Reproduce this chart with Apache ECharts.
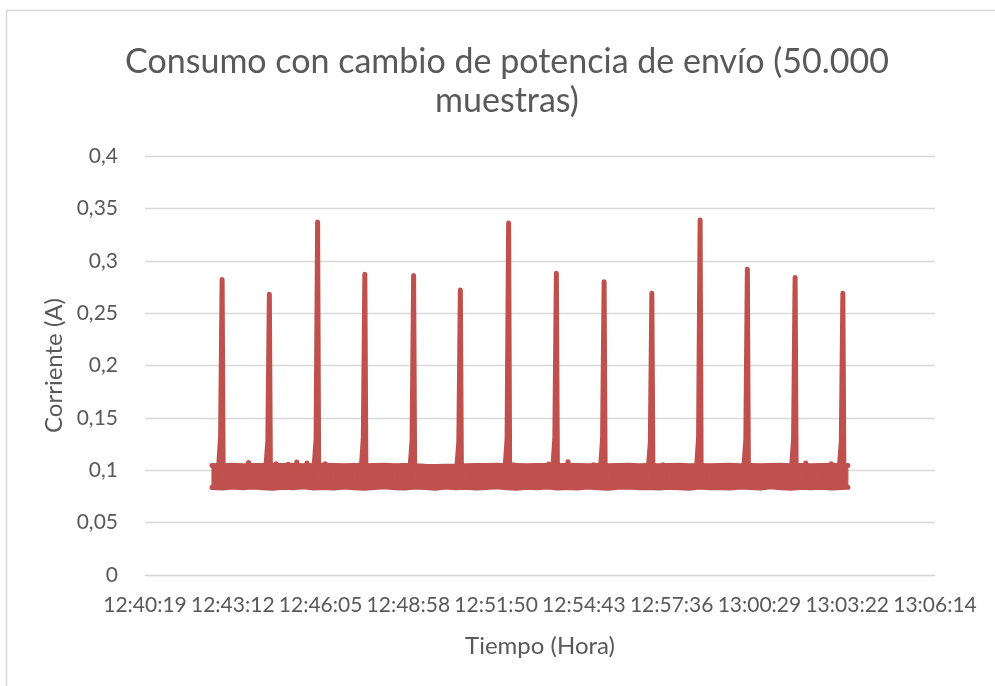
<!DOCTYPE html>
<html>
<head>
<meta charset="utf-8">
<script src="https://cdn.jsdelivr.net/npm/echarts@6/dist/echarts.min.js"></script>
<style>
  html, body { margin: 0; padding: 0; background: #ffffff; }
  #chart { width: 995px; height: 686px; }
</style>
</head>
<body>
<div id="chart"></div>
<script>
// Envelope of the 50,000 current samples (min / max per time slot), in amperes
const envTimes = [
  "12:42:31","12:42:51","12:43:11","12:43:31","12:43:51","12:44:11","12:44:31","12:44:51",
  "12:45:11","12:45:31","12:45:51","12:46:11","12:46:31","12:46:51","12:47:11","12:47:31",
  "12:47:51","12:48:11","12:48:31","12:48:51","12:49:11","12:49:31","12:49:51","12:50:11",
  "12:50:31","12:50:51","12:51:11","12:51:31","12:51:51","12:52:11","12:52:31","12:52:51",
  "12:53:11","12:53:31","12:53:51","12:54:11","12:54:31","12:54:51","12:55:11","12:55:31",
  "12:55:51","12:56:11","12:56:31","12:56:51","12:57:11","12:57:31","12:57:51","12:58:11",
  "12:58:31","12:58:51","12:59:11","12:59:31","12:59:51","13:00:11","13:00:31","13:00:51",
  "13:01:11","13:01:31","13:01:51","13:02:11","13:02:31","13:02:51","13:03:11","13:03:23"
];
const envLow = [
  0.0836, 0.0830, 0.0839, 0.0832, 0.0841, 0.0834, 0.0829, 0.0838,
  0.0833, 0.0842, 0.0831, 0.0836, 0.0830, 0.0840, 0.0834, 0.0828,
  0.0836, 0.0843, 0.0833, 0.0830, 0.0839, 0.0835, 0.0829, 0.0841,
  0.0833, 0.0837, 0.0831, 0.0836, 0.0842, 0.0832, 0.0829, 0.0838,
  0.0834, 0.0840, 0.0831, 0.0835, 0.0830, 0.0839, 0.0833, 0.0828,
  0.0837, 0.0841, 0.0832, 0.0836, 0.0830, 0.0838, 0.0834, 0.0829,
  0.0840, 0.0833, 0.0836, 0.0831, 0.0839, 0.0835, 0.0830, 0.0842,
  0.0834, 0.0829, 0.0837, 0.0832, 0.0838, 0.0831, 0.0835, 0.0837
];
const envHigh = [
  0.1046, 0.1043, 0.1047, 0.1044, 0.1046, 0.1045, 0.1048, 0.1046,
  0.1047, 0.1044, 0.1046, 0.1048, 0.1045, 0.1043, 0.1046, 0.1044,
  0.1045, 0.1047, 0.1043, 0.1046, 0.1044, 0.1038, 0.1036, 0.1037,
  0.1038, 0.1044, 0.1046, 0.1045, 0.1047, 0.1043, 0.1046, 0.1044,
  0.1045, 0.1046, 0.1043, 0.1047, 0.1045, 0.1044, 0.1046, 0.1043,
  0.1045, 0.1047, 0.1044, 0.1046, 0.1043, 0.1045, 0.1047, 0.1044,
  0.1046, 0.1043, 0.1045, 0.1047, 0.1044, 0.1046, 0.1043, 0.1045,
  0.1047, 0.1044, 0.1046, 0.1043, 0.1045, 0.1047, 0.1044, 0.1046
];

// Transmission pulses: peak time, peak current and the shoulder just before the peak
const pulseTimes = ["12:42:51","12:44:24","12:45:59","12:47:32","12:49:08","12:50:40","12:52:15",
                    "12:53:49","12:55:23","12:56:57","12:58:32","13:00:05","13:01:39","13:03:13"];
const pulsePeaks = [0.282, 0.268, 0.337, 0.287, 0.286, 0.272, 0.336, 0.288, 0.280, 0.269, 0.339, 0.292, 0.284, 0.269];
const pulseShoulders = [0.132, 0.128, 0.130, 0.131, 0.129, 0.127, 0.130, 0.131, 0.130, 0.126, 0.131, 0.129, 0.130, 0.128];
// Pulse profile: seconds relative to the peak (rise start, shoulder, peak, back to baseline)
const pulseOffsets = [-7, -3, 0, 2];
const pulseBase = 0.102;

// Short excursions above the baseline band
const bumpTimes = ["12:43:43","12:44:37","12:45:01","12:45:18","12:45:38","12:46:14","12:47:22",
                   "12:52:25","12:53:34","12:54:12","12:55:02","12:57:19","13:02:00","13:02:50"];
const bumpValues = [0.1075, 0.1062, 0.1058, 0.1078, 0.1070, 0.1062, 0.1052,
                    0.1052, 0.1060, 0.1082, 0.1052, 0.1052, 0.1070, 0.1062];

// Axis settings
const xMin = 45619.2, xMax = 47174.4, xStep = 172.8;   // seconds after midnight
const yTicks = [0, 0.05, 0.1, 0.15, 0.2, 0.25, 0.3, 0.35, 0.4];

const RED = '#C0504D';
const GRID = '#D9D9D9';
const TEXT = '#595959';
const FONT = 'Lato, "Open Sans", sans-serif';

function toSec(s) {
  const p = s.split(':').map(Number);
  return p[0] * 3600 + p[1] * 60 + p[2];
}
function pad(n) { return (n < 10 ? '0' : '') + n; }
function fmtTime(v) {
  const s = Math.round(v);
  return Math.floor(s / 3600) + ':' + pad(Math.floor(s / 60) % 60) + ':' + pad(s % 60);
}

const lowLine = envTimes.map((t, i) => [toSec(t), envLow[i]]);
const highLine = envTimes.map((t, i) => [toSec(t), envHigh[i]]);
const bandSegments = envTimes.slice(0, -1).map((t, i) =>
  [toSec(t), envLow[i], envHigh[i], toSec(envTimes[i + 1]), envLow[i + 1], envHigh[i + 1]]);

const lineStyle = { color: RED, width: 5, cap: 'round', join: 'round' };

const series = [
  {
    type: 'custom',
    silent: true,
    z: 2,
    encode: { x: [0, 3], y: [1, 2, 4, 5] },
    data: bandSegments,
    renderItem: function (params, api) {
      const a = api.coord([api.value(0), api.value(2)]);
      const b = api.coord([api.value(3), api.value(5)]);
      const c = api.coord([api.value(3), api.value(4)]);
      const d = api.coord([api.value(0), api.value(1)]);
      return {
        type: 'polygon',
        shape: { points: [a, b, c, d] },
        style: { fill: RED, stroke: RED, lineWidth: 1 }
      };
    }
  },
  { type: 'line', data: lowLine, showSymbol: false, silent: true, z: 3, lineStyle: lineStyle },
  { type: 'line', data: highLine, showSymbol: false, silent: true, z: 3, lineStyle: lineStyle }
];

pulseTimes.forEach(function (t, i) {
  const c = toSec(t);
  const vals = [pulseBase, pulseShoulders[i], pulsePeaks[i], pulseBase];
  series.push({
    type: 'line', showSymbol: false, silent: true, z: 4,
    data: pulseOffsets.map((o, k) => [c + o, vals[k]]),
    lineStyle: lineStyle
  });
});

bumpTimes.forEach(function (t, i) {
  const c = toSec(t);
  series.push({
    type: 'line', showSymbol: false, silent: true, z: 4,
    data: [[c, pulseBase], [c, bumpValues[i]]],
    lineStyle: lineStyle
  });
});

const chart = echarts.init(document.getElementById('chart'), null, { renderer: 'canvas' });
chart.setOption({
  animation: false,
  backgroundColor: '#ffffff',
  graphic: [{
    type: 'rect',
    shape: { x: 6.5, y: 10.5, width: 1000, height: 700 },
    style: { fill: null, stroke: GRID, lineWidth: 1.5 },
    silent: true
  }],
  title: {
    text: 'Consumo con cambio de potencia de envío (50.000\nmuestras)',
    left: 502,
    top: 38,
    textAlign: 'center',
    textStyle: {
      fontFamily: FONT, fontSize: 34, fontWeight: 'normal', color: TEXT, lineHeight: 39
    }
  },
  grid: { left: 145, right: 60, top: 156, bottom: 111, containLabel: false },
  xAxis: {
    type: 'value',
    min: xMin, max: xMax, interval: xStep,
    name: 'Tiempo (Hora)',
    nameLocation: 'middle',
    nameGap: 59,
    nameTextStyle: { fontFamily: FONT, fontSize: 24, color: TEXT },
    axisLine: { show: true, lineStyle: { color: GRID, width: 1.3 } },
    axisTick: { show: false },
    splitLine: { show: false },
    axisLabel: {
      fontFamily: FONT, fontSize: 21, color: TEXT, margin: 20,
      formatter: fmtTime, showMinLabel: true, showMaxLabel: true
    }
  },
  yAxis: {
    type: 'value',
    min: yTicks[0], max: yTicks[yTicks.length - 1], interval: yTicks[1] - yTicks[0],
    name: 'Corriente (A)',
    nameLocation: 'middle',
    nameGap: 77,
    nameTextStyle: { fontFamily: FONT, fontSize: 24, color: TEXT },
    axisLine: { show: false },
    axisTick: { show: false },
    splitLine: { show: true, lineStyle: { color: GRID, width: 1.3 } },
    axisLabel: {
      fontFamily: FONT, fontSize: 21, color: TEXT, margin: 27,
      formatter: function (v) { return String(+v.toFixed(2)).replace('.', ','); }
    }
  },
  series: series
});
</script>
</body>
</html>
